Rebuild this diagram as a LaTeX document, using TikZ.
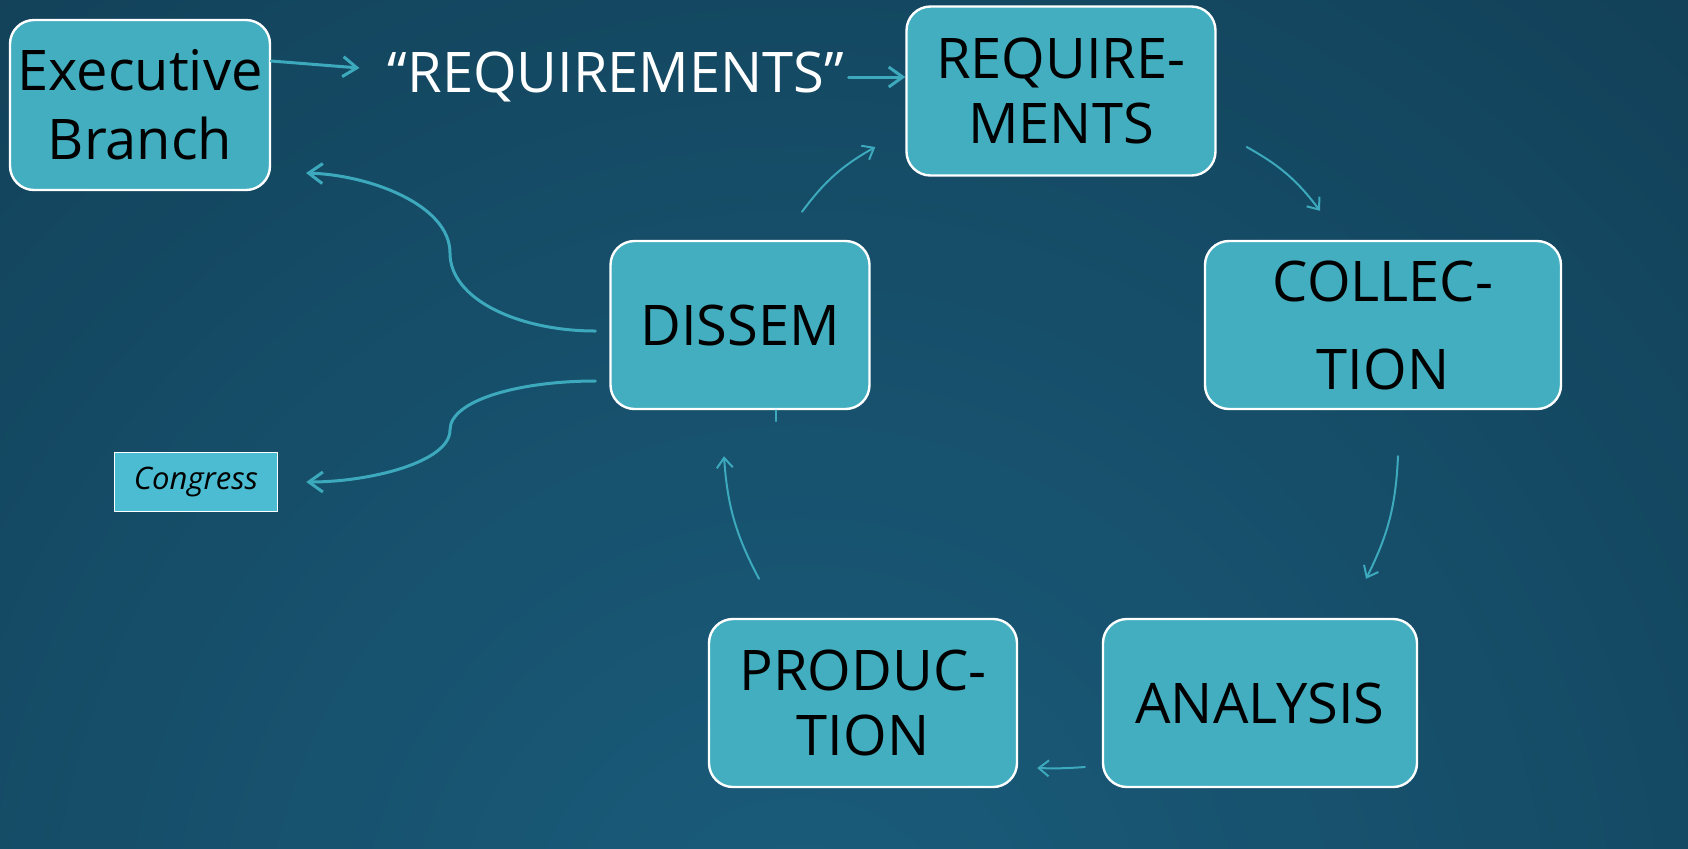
\documentclass[tikz,border=0pt]{standalone}
\usepackage{fontspec}
\setmainfont{Open Sans}
\usetikzlibrary{arrows.meta}
\definecolor{bgin}{HTML}{1A5D7C}
\definecolor{bgout}{HTML}{0E3246}
\definecolor{boxc}{HTML}{42AEBF}
\definecolor{congc}{HTML}{4BBCD2}
\definecolor{arrc}{HTML}{3DA9BC}
\begin{document}
\begin{tikzpicture}[x=0.5pt,y=-0.5pt,line join=round,line cap=round,
    >={Straight Barb[length=7pt,width=10pt]},
    box/.style={draw=white,line width=1.2pt,fill=boxc,rounded corners=12pt,align=center,inner sep=0pt,font=\fontsize{28}{32.5}\selectfont},
    big/.style={->,draw=arrc,line width=1.5pt},
    cyc/.style={-{Straight Barb[length=5pt,width=8pt]},draw=arrc,line width=1pt}]
    \useasboundingbox (0,0) rectangle (1688,848);
    \begin{scope}
        \clip (0,0) rectangle (1688,848);
        \shade[inner color=bgin,outer color=bgout] (800,960) circle (2000);
    \end{scope}
    % boxes
    \node[box,minimum width=130pt,minimum height=85pt,font=\fontsize{28}{34.5}\selectfont] (exec) at (140,105) {Executive\\Branch};
    \node[text=white,inner sep=0pt,font=\fontsize{28}{32.5}\selectfont] (quote) at (616,77) {“REQUIREMENTS”};
    \node[box,minimum width=154.5pt,minimum height=84.5pt] (req) at (1061,91) {REQUIRE-\\MENTS};
    \node[box,minimum width=178pt,minimum height=84pt,font=\fontsize{28}{44}\selectfont] (col) at (1383,325) {COLLEC-\\TION};
    \node[box,minimum width=154pt,minimum height=84pt] (prod) at (863,703) {PRODUC-\\TION};
    \node[box,minimum width=157pt,minimum height=84pt] (ana) at (1260,703) {ANALYSIS};
    \node[box,minimum width=129.5pt,minimum height=84pt] (dis) at (740,325) {DISSEM};
    \node[draw=white,line width=0.8pt,fill=congc,minimum width=81.5pt,minimum height=29.5pt,inner sep=0pt,font=\fontsize{15.5}{17}\selectfont\itshape] (cong) at (196,482) {Congress};
    % arrows
    \draw[big] ([shift={(0,-44)}]exec.east) -- ([shift={(-28,-9)}]quote.west);
    \draw[big] ([xshift=2pt]quote.east) -- (quote.east -| req.west);
    \draw[cyc] ([shift={(62,-28)}]dis.north) to[bend left=12] ([shift={(-30,56)}]req.west);
    \draw[cyc] ([shift={(30,56)}]req.east) to[bend left=12] ([shift={(-63,-29)}]col.north);
    \draw[cyc] ([shift={(15,46)}]col.south) to[bend left=12] ([shift={(106,-39)}]ana.north);
    \draw[cyc] ([shift={(-17,64)}]ana.west) to[bend left=3] ([shift={(19,65)}]prod.east);
    \draw[cyc] ([shift={(-104,-39)}]prod.north) to[bend left=12] ([shift={(-16,46)}]dis.south);
    \draw[arrc,line width=0.8pt] ([xshift=18pt]dis.south) -- ([shift={(36,11)}]dis.south);
    \draw[big] ([shift={(-14,6)}]dis.west) .. controls (520,331) and (450,300) .. (450,253)
        .. controls (450,205) and (370,175) .. (306,173);
    \draw[big] ([shift={(-14,56)}]dis.west) .. controls (520,381) and (450,400) .. (450,430)
        .. controls (450,462) and (370,482) .. ([xshift=14pt]cong.east);
\end{tikzpicture}
\end{document}
